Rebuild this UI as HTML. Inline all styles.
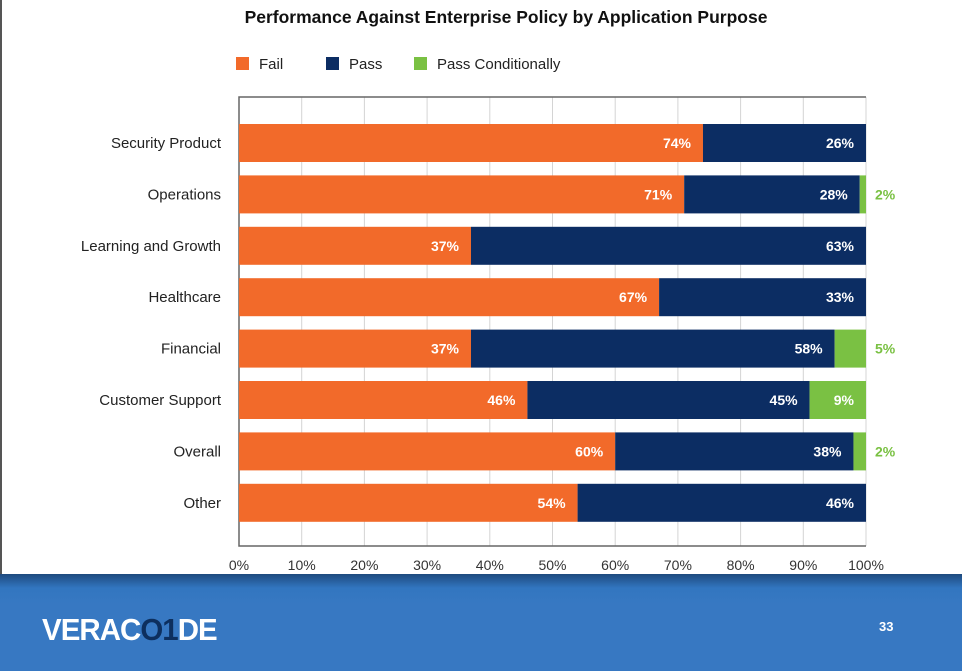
<!DOCTYPE html>
<html><head><meta charset="utf-8"><style>
body{margin:0;width:962px;height:671px;overflow:hidden;background:#fff;font-family:"Liberation Sans",sans-serif;position:relative}
#frameL{position:absolute;left:0;top:0;width:2px;height:576px;background:#555}
#footer{position:absolute;left:0;top:574px;width:962px;height:97px;background:linear-gradient(#1e4a7e 0px,#3276c0 14px,#3778c2 30px)}
</style></head><body>
<div id="frameL"></div>
<svg id="chart" width="962" height="580" style="position:absolute;left:0;top:0"></svg>
<div id="footer">
<div style="position:absolute;left:42px;top:38px;font:bold 31px 'Liberation Sans',sans-serif;color:#fff;letter-spacing:-1px;transform:scaleX(0.95);transform-origin:left">VERAC<span style="color:#0d2f5e">O1</span>DE</div>
<div style="position:absolute;left:879px;top:45px;font:bold 13px 'Liberation Sans',sans-serif;color:#fff">33</div>
</div>
<script>
const categories=["Security Product","Operations","Learning and Growth","Healthcare","Financial","Customer Support","Overall","Other"];
const failVals=[74,71,37,67,37,46,60,54];
const passVals=[26,28,63,33,58,45,38,46];
const condVals=[0,1,0,0,5,9,2,0];
const condLabels=["","2%","","","5%","9%","2%",""];
const ticks=[0,10,20,30,40,50,60,70,80,90,100];
const NS="http://www.w3.org/2000/svg";
const svg=document.getElementById('chart');
const X0=239,X1=866,Y0=97,Y1=546,rowTop=124,rowStep=51.4,barH=38;
const xs=v=>X0+(X1-X0)*v/100;
function mk(t,a,p){const e=document.createElementNS(NS,t);for(const k in a)e.setAttribute(k,a[k]);(p||svg).appendChild(e);return e;}
let t=mk('text',{x:506,y:23,'text-anchor':'middle','font-size':17.5,'font-weight':'bold',fill:'#111'});t.textContent="Performance Against Enterprise Policy by Application Purpose";


const leg=[["Fail","#f26a2a",236],["Pass","#0c2d63",326],["Pass Conditionally","#7ac143",414]];
leg.forEach(l=>{const g=mk('g',{});


mk('rect',{x:l[2],y:57,width:13,height:13,fill:l[1]},g);
const tx=mk('text',{x:l[2]+23,y:69,'font-size':15,fill:'#222'},g);tx.textContent=l[0];});
ticks.forEach(v=>{const ln=mk('line',{x1:xs(v),x2:xs(v),y1:Y0,y2:Y1,stroke:'#d4d4d4','stroke-width':1});


const tx=mk('text',{x:xs(v),y:570,'text-anchor':'middle','font-size':14,fill:'#333'});tx.textContent=v+"%";

});
mk('polyline',{points:`${X1},${Y0} ${X0},${Y0} ${X0},${Y1} ${X1},${Y1}`,fill:'none',stroke:'#666','stroke-width':1.5});
categories.forEach((c,i)=>{const y=rowTop+i*rowStep;
const lb=mk('text',{x:221,y:y+barH/2+5,'text-anchor':'end','font-size':15,fill:'#222'});lb.textContent=c;


let x=0;
[[failVals[i],'#f26a2a','fail'],[passVals[i],'#0c2d63','pass'],[condVals[i],'#7ac143','cond']].forEach(s=>{
if(!s[0])return;const r=mk('rect',{x:xs(x),y:y,width:xs(x+s[0])-xs(x),height:barH,fill:s[1]});


x+=s[0];
if(s[2]!=='cond'){const v=mk('text',{x:xs(x)-12,y:y+barH/2+5,'text-anchor':'end','font-size':14,'font-weight':'bold',fill:'#fff'});v.textContent=s[0]+"%";

}
else if(condVals[i]>=5&&i===5){const v=mk('text',{x:xs(x)-12,y:y+barH/2+5,'text-anchor':'end','font-size':14,'font-weight':'bold',fill:'#fff'});v.textContent=condLabels[i];

}
else{const v=mk('text',{x:875,y:y+barH/2+5,'font-size':14,'font-weight':'bold',fill:'#7ac143'});v.textContent=condLabels[i];

}
});});
</script>
</body></html>
